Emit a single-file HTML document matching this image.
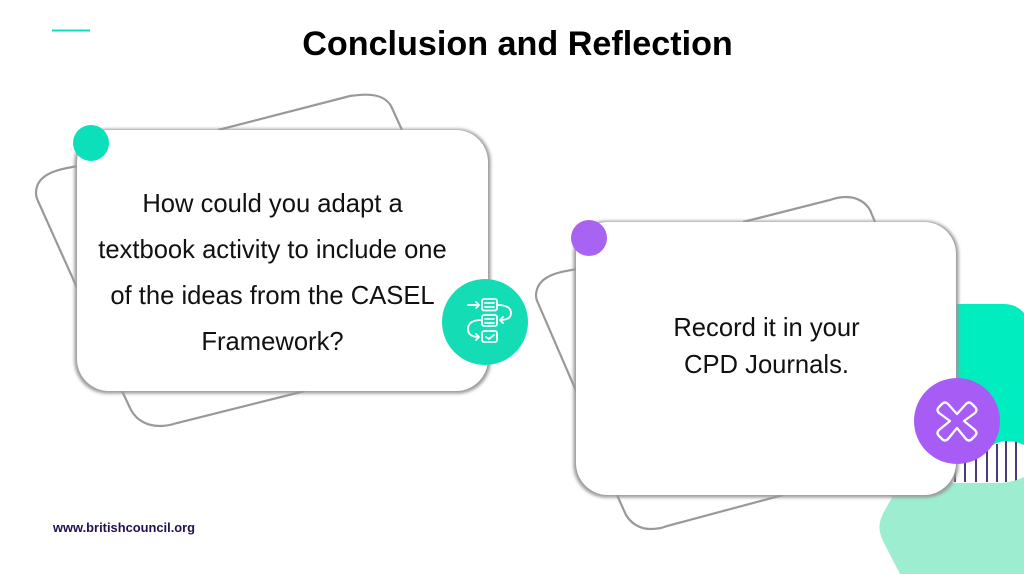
<!DOCTYPE html>
<html><head><meta charset="utf-8"><style>
html,body{margin:0;padding:0;background:#fff}
svg{display:block;font-family:"Liberation Sans",sans-serif}
</style></head><body>
<svg width="1024" height="574" viewBox="0 0 1024 574" xmlns="http://www.w3.org/2000/svg">
<defs>
<filter id="b" x="-5%" y="-5%" width="110%" height="110%"><feGaussianBlur stdDeviation="1.500"/></filter>
</defs>
<rect width="1024" height="574" fill="#fff"/>
<!-- right decorations -->
<path d="M950 304H1004Q1016 304 1024 313V450H950Z" fill="#00EDC0"/>
<path d="M950 452L987 449Q997 441 1007 441Q1016 441 1024 445V478Q1015 482 1000 483H950Z" fill="#fff"/>
<g stroke="#2a1a5e" stroke-width="1.700">
<path d="M955 445V482M965 450V482M976 450V482M987 449V482M997 444V482M1006 441V482M1016 442V481"/>
</g>
<path d="M895 492L885 510C878 522 878 530 883 541L900 574H1024V477Q1015 482 1000 483H895Z" fill="#9DEDD0"/>
<!-- back outlines -->
<g fill="none" stroke="#999" stroke-width="2.200">
<path d="M218 130L350 96Q360 94.500 367 94.700C380 95 388 99 392 108L402 130"/>
<path d="M78 166C60 169 36 173 36 193Q36 197 38 201L78 290"/>
<path d="M122 391L131 410C137 421 148 426 160 426Q168 426 177 423L305 391"/>
<path d="M743 222L830 200Q838 197 846 197C858 197 866 203 870 210L875 222"/>
<path d="M577 269C560 272 537 275 536 295Q536 299 538 303L580 400"/>
<path d="M617 495L626 515C632 525 642 529 650 529Q660 529 667 526L783 495"/>
</g>
<!-- cards -->
<rect x="74.500" y="129" width="416" height="264.500" rx="33" fill="#999" filter="url(#b)"/>
<rect x="77" y="130" width="411" height="261" rx="32" fill="#fff"/>
<rect x="573.500" y="221" width="385" height="276.500" rx="33" fill="#999" filter="url(#b)"/>
<rect x="576" y="222" width="380" height="273" rx="32" fill="#fff"/>
<!-- dots -->
<circle cx="91" cy="143" r="18" fill="#0CE0BA"/>
<circle cx="589" cy="238" r="18" fill="#A863F3"/>
<circle cx="485" cy="322" r="43" fill="#14DDB5"/>
<circle cx="957" cy="421" r="43" fill="#A65CF5"/>
<!-- icon 1 -->
<g fill="none" stroke="#fff" stroke-width="1.800" stroke-linecap="round" stroke-linejoin="round">
<rect x="482" y="299" width="15" height="11.500" rx="2"/>
<rect x="482" y="315" width="15" height="11" rx="2"/>
<rect x="482" y="331" width="15" height="11" rx="2"/>
<path d="M485 303H494M485 307H494M485 319H494M485 323H494M486 337L489 339L494 335"/>
<path d="M468 305H479M476 302L479 305L476 308"/>
<path d="M497 305Q511 305 511 313Q511 320 500 320M503 317L500 320L503 323"/>
<path d="M482 320Q468 320 468 329Q468 337 479 337M476 334L479 337L476 340"/>
</g>
<!-- icon X -->
<path d="M957 414L948 404Q945 401 942 404L939 407Q936 410 939 413L950 421L939 430Q936 433 939 436L942 439Q945 442 948 439L957 428L966 439Q969 442 972 439L975 436Q978 433 975 430L964 421L975 413Q978 410 975 407L972 404Q969 401 966 404Z" fill="none" stroke="#fff" stroke-width="2.300" stroke-linejoin="round"/>
<!-- header -->
<line x1="52" y1="30.500" x2="90" y2="30.500" stroke="#0CE0BA" stroke-width="2"/>
<text x="517.500" y="55" text-anchor="middle" font-size="34.150" font-weight="700" fill="#000">Conclusion and Reflection</text>
<!-- text -->
<g font-size="25.600" fill="#111" text-anchor="middle">
<text x="272.500" y="212">How could you adapt a</text>
<text x="272.500" y="258">textbook activity to include one</text>
<text x="272.500" y="304">of the ideas from the CASEL</text>
<text x="272.500" y="350">Framework?</text>
<text x="766.500" y="336">Record it in your</text>
<text x="766.500" y="373">CPD Journals.</text>
</g>
<text x="53" y="532" font-size="12.900" font-weight="700" fill="#24104f">www.britishcouncil.org</text>
</svg>
</body></html>
